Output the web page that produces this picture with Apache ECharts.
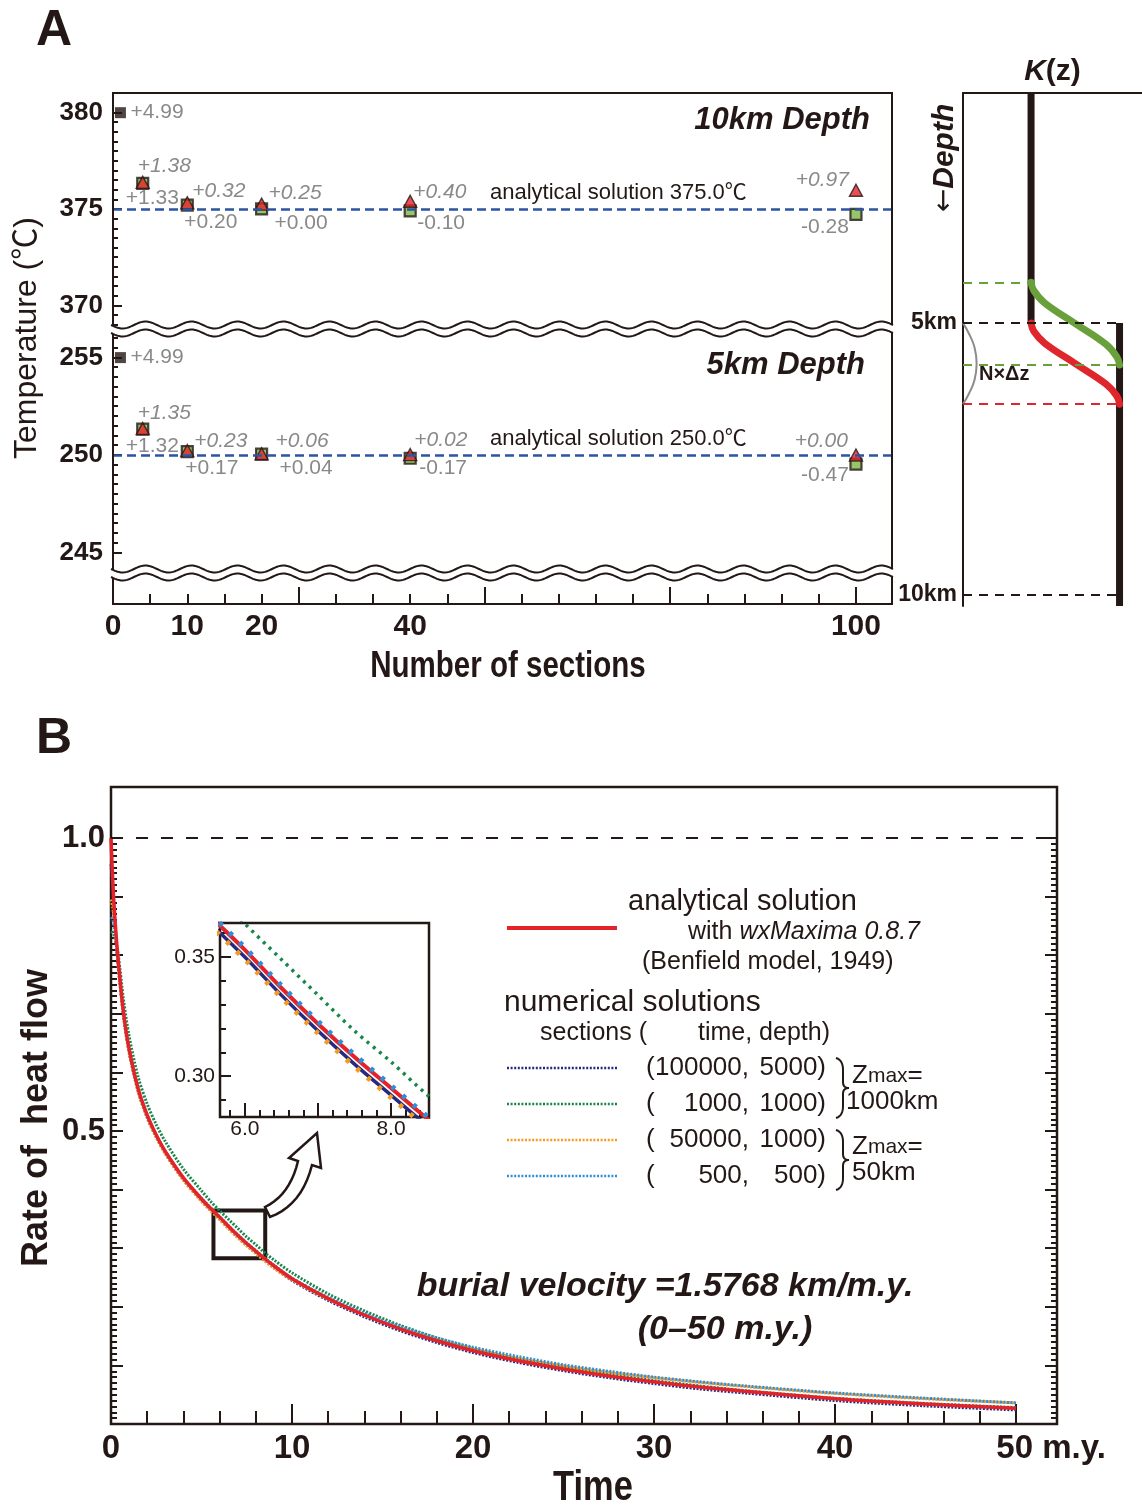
<!DOCTYPE html>
<html>
<head>
<meta charset="utf-8">
<script src="https://cdn.jsdelivr.net/npm/echarts@6/dist/echarts.min.js"></script>
<style>
  html, body { margin: 0; padding: 0; background: #fff; }
  #chart { width: 1142px; height: 1508px; }
</style>
</head>
<body>
<div id="chart"></div>
<script>
// ---------- Panel A: temperature vs. number of sections ----------
const sectionCounts = [4, 10, 20, 40, 100];
const singleSection = 1;
const analytic10km = 375.0;
const analytic5km = 250.0;
const single10kmDev = 4.99;
const single5kmDev = 4.99;
const dev10kmRed = [1.38, 0.32, 0.25, 0.40, 0.97];
const dev10kmGreen = [1.33, 0.20, 0.00, -0.10, -0.28];
const dev5kmRed = [1.35, 0.23, 0.06, 0.02, 0.00];
const dev5kmGreen = [1.32, 0.17, 0.04, -0.17, -0.47];
const sectionLabels = [0, 10, 20, 40, 100];
const tempLabels10km = [370, 375, 380];
const tempLabels5km = [245, 250, 255];

// ---------- K(z) sketch ----------
const kLow = 1.0;
const kHigh = 2.3;
const depthTopKm = 0.77;
const depthBottomKm = 10.2;
const depthLabels = [5, 10];
const greenTopKm = 4.25;
const greenBottomKm = 5.77;
const redBottomKm = 6.49;
const greenDepth = [4.25, 4.40, 4.63, 5.01, 5.39, 5.62, 5.77];
const redDepth = [5.00, 5.15, 5.37, 5.745, 6.12, 6.34, 6.49];
const transitionK = [1.00, 1.04, 1.20, 1.65, 2.10, 2.26, 2.30];
const bracketDepth = [5.0, 5.2, 5.45, 5.745, 6.04, 6.29, 6.49];
const bracketK = [0, 0.09, 0.17, 0.2, 0.17, 0.09, 0];

// ---------- Panel B: rate of heat flow vs. time ----------
const timeMy = [0, 0.1, 0.2, 0.4, 0.7, 1, 1.5, 2, 2.5, 3, 4, 5, 5.5, 6, 6.5, 7, 7.5, 8, 8.5, 9,
  10, 12, 14, 16, 18, 20, 22.5, 25, 27.5, 30, 32.5, 35, 40, 45, 50];
const analytical = [1.000, 0.925, 0.870, 0.790, 0.700, 0.640, 0.572, 0.527, 0.493, 0.465, 0.420, 0.384,
  0.368, 0.353, 0.337, 0.322, 0.308, 0.295, 0.282, 0.270, 0.248, 0.214, 0.186, 0.162, 0.142, 0.125,
  0.108, 0.094, 0.082, 0.072, 0.063, 0.056, 0.043, 0.034, 0.027];
const num100000x5000 = [0.955, 0.915, 0.862, 0.783, 0.694, 0.635, 0.568, 0.523, 0.490, 0.462, 0.417, 0.381,
  0.365, 0.350, 0.334, 0.319, 0.305, 0.292, 0.279, 0.267, 0.245, 0.211, 0.183, 0.159, 0.139, 0.122,
  0.105, 0.091, 0.079, 0.069, 0.060, 0.053, 0.040, 0.031, 0.024];
const num1000x1000 = [0.840, 0.838, 0.832, 0.800, 0.722, 0.662, 0.592, 0.546, 0.511, 0.482, 0.435, 0.398,
  0.380, 0.364, 0.349, 0.334, 0.319, 0.306, 0.292, 0.280, 0.258, 0.222, 0.193, 0.168, 0.147, 0.129,
  0.111, 0.097, 0.085, 0.074, 0.065, 0.057, 0.044, 0.035, 0.028];
const num50000x1000 = [0.895, 0.880, 0.852, 0.780, 0.694, 0.634, 0.567, 0.523, 0.489, 0.461, 0.416, 0.380,
  0.364, 0.349, 0.333, 0.318, 0.304, 0.291, 0.278, 0.266, 0.246, 0.213, 0.186, 0.163, 0.144, 0.128,
  0.112, 0.099, 0.088, 0.079, 0.071, 0.064, 0.052, 0.043, 0.036];
const num500x500 = [0.865, 0.860, 0.845, 0.785, 0.700, 0.640, 0.572, 0.527, 0.493, 0.465, 0.420, 0.385,
  0.369, 0.354, 0.338, 0.323, 0.309, 0.296, 0.283, 0.271, 0.249, 0.216, 0.189, 0.166, 0.147, 0.131,
  0.115, 0.101, 0.090, 0.080, 0.072, 0.065, 0.053, 0.044, 0.036];
const timeLabels = [0, 10, 20, 30, 40, 50];
const rateLabels = [0.5, 1.0];
const insetTime = [5.66, 8.52];
const insetRate = [0.2828, 0.3643];
const insetTimeLabels = [6.0, 8.0];
const insetRateLabels = [0.30, 0.35];
const burialVelocity = 1.5768;
const burialPeriod = [0, 50];

// ---------- styling ----------
const INK = '#231815';
const GRAY = '#6b6b6b';
const RED = '#e3232a';
const GREEN_PT = '#7cb843';
const NAVY = '#262b80';
const DGREEN = '#17884a';
const ORANGE = '#f29b25';
const LBLUE = '#2f8fd6';
const SANS = "'Liberation Sans',Arial,'Noto Sans CJK JP',sans-serif";
const SMOOTH = 0.3;

// label placement (align, dx, dy) for each deviation marker
const place10Red = [['left', -5, -16], ['left', 5, -12], ['left', 7, -11], ['left', 3, -9], ['right', -7, -10]];
const place10Green = [['left', -17, 15], ['left', -3, 17], ['left', 13, 14], ['left', 7, 12], ['right', -7, 13]];
const place5Red = [['left', -5, -15], ['left', 7, -9], ['left', 14, -13], ['left', 4, -14], ['right', -8, -14]];
const place5Green = [['left', -17, 17], ['left', -2, 17], ['left', 18, 14], ['left', 9, 10], ['right', -7, 11]];

function steps(a, b, s) {
  const out = [];
  for (let i = 0; a + i * s <= b + 1e-9; i++) out.push(+(a + i * s).toFixed(4));
  return out;
}
function fmtDev(v) { return (v < 0 ? '-' : '+') + Math.abs(v).toFixed(2); }
function ax(o) {
  return Object.assign({
    type: 'value', axisLine: { show: false }, splitLine: { show: false },
    axisTick: { show: false }, axisLabel: { show: false }
  }, o);
}
function ticks(values, len, w) {
  return { show: true, inside: true, length: len, customValues: values, lineStyle: { color: INK, width: w || 2 } };
}
function labels(values, o) {
  return Object.assign({ show: true, customValues: values, color: INK, fontFamily: SANS, fontWeight: 'bold' }, o);
}
function devItems(devs, base, places) {
  return sectionCounts.map((s, i) => ({
    value: [s, base + devs[i], devs[i]],
    label: { align: places[i][0], offset: [places[i][1], places[i][2]] }
  }));
}
function devLabel(italic) {
  return {
    show: true, position: 'inside', verticalAlign: 'middle',
    formatter: p => fmtDev(p.value[2]),
    color: GRAY, fontSize: 21, fontFamily: SANS, fontStyle: italic ? 'italic' : 'normal'
  };
}
const pairs = ys => timeMy.map((t, i) => [t, ys[i]]);

const X_A = [0, 104.85];
const Y_A10 = [368.52, 381.01];
const Y_A5 = [242.36, 256.2];
const X_B = [0, 52.26];
const Y_B = [0, 1.087];

// ---------- axes ----------
const xAxes = [
  ax({ gridIndex: 0, min: X_A[0], max: X_A[1], show: false }),
  ax({ gridIndex: 1, min: X_A[0], max: X_A[1], position: 'bottom',
       axisTick: ticks(steps(5, 100, 5).filter(v => v % 25 !== 0), 10) }),
  ax({ gridIndex: 1, min: X_A[0], max: X_A[1], position: 'bottom',
       axisTick: ticks([25, 50, 75, 100], 17),
       axisLabel: labels(sectionLabels, { fontSize: 30, margin: 8 }) }),
  ax({ gridIndex: 2, min: 0, max: 2.63, position: 'top',
       axisLine: { show: true, lineStyle: { color: INK, width: 2 } },
       name: '{k|K}{p|(z)}', nameLocation: 'middle', nameGap: 6,
       nameTextStyle: { rich: {
         k: { fontFamily: SANS, fontWeight: 'bold', fontStyle: 'italic', fontSize: 30, color: INK },
         p: { fontFamily: SANS, fontWeight: 'bold', fontSize: 30, color: INK } } } }),
  ax({ gridIndex: 3, min: X_B[0], max: X_B[1], position: 'bottom',
       axisTick: ticks(steps(2, 50, 2), 13) }),
  ax({ gridIndex: 3, min: X_B[0], max: X_B[1], position: 'bottom',
       axisTick: ticks([10, 20, 30, 40, 50], 20),
       axisLabel: labels(timeLabels, { fontSize: 33, margin: 8,
         formatter: v => (v === burialPeriod[1] ? '{pad| }' + v + ' m.y.' : String(v)),
         rich: { pad: { width: 70 } } }) }),
  ax({ gridIndex: 4, min: insetTime[0], max: insetTime[1], position: 'bottom',
       axisTick: ticks(steps(5.8, 8.4, 0.2), 7) }),
  ax({ gridIndex: 4, min: insetTime[0], max: insetTime[1], position: 'bottom',
       axisTick: ticks([6, 7, 8], 14),
       axisLabel: { show: true, customValues: insetTimeLabels, formatter: v => (+v).toFixed(1),
         color: INK, fontFamily: SANS, fontSize: 21, margin: 2 } })
];

const yAxes = [
  ax({ gridIndex: 0, position: 'left', min: Y_A10[0], max: Y_A10[1], axisTick: ticks(steps(369, 380, 0.5), 5) }),
  ax({ gridIndex: 0, position: 'left', min: Y_A10[0], max: Y_A10[1], axisTick: ticks(tempLabels10km, 9),
       axisLabel: labels(tempLabels10km, { fontSize: 26, margin: 10 }) }),
  ax({ gridIndex: 1, position: 'left', min: Y_A5[0], max: Y_A5[1], axisTick: ticks(steps(245, 256, 0.5), 5) }),
  ax({ gridIndex: 1, position: 'left', min: Y_A5[0], max: Y_A5[1], axisTick: ticks(tempLabels5km, 9),
       axisLabel: labels(tempLabels5km, { fontSize: 26, margin: 10 }) }),
  ax({ gridIndex: 2, position: 'left', min: depthTopKm, max: depthBottomKm, inverse: true,
       axisLine: { show: true, lineStyle: { color: INK, width: 2 } },
       axisLabel: { show: true, customValues: depthLabels, formatter: '{value}km', margin: 6,
         color: INK, fontFamily: SANS, fontWeight: 'bold', fontSize: 23 } }),
  ax({ gridIndex: 3, min: Y_B[0], max: Y_B[1], position: 'left', axisTick: ticks(steps(0.01, 1.0, 0.01), 6) }),
  ax({ gridIndex: 3, min: Y_B[0], max: Y_B[1], position: 'left', axisTick: ticks(steps(0.1, 1.0, 0.1), 12),
       axisLabel: labels(rateLabels, { fontSize: 31, margin: 6, formatter: v => (+v).toFixed(1) }) }),
  ax({ gridIndex: 3, min: Y_B[0], max: Y_B[1], position: 'right', axisTick: ticks(steps(0.01, 1.0, 0.01), 6) }),
  ax({ gridIndex: 3, min: Y_B[0], max: Y_B[1], position: 'right', axisTick: ticks(steps(0.1, 1.0, 0.1), 12) }),
  ax({ gridIndex: 4, position: 'left', min: insetRate[0], max: insetRate[1], axisTick: ticks(steps(0.29, 0.36, 0.01), 6) }),
  ax({ gridIndex: 4, position: 'left', min: insetRate[0], max: insetRate[1], axisTick: ticks(insetRateLabels, 11),
       axisLabel: { show: true, customValues: insetRateLabels, formatter: v => (+v).toFixed(2),
         color: INK, fontFamily: SANS, fontSize: 21, margin: 5 } })
];

// ---------- series ----------
const blueLine = { color: '#2b54a3', width: 2.5, type: [9, 5] };
function curve(xi, yi, ys, style, extra) {
  return Object.assign({ type: 'line', xAxisIndex: xi, yAxisIndex: yi, symbol: 'none', smooth: SMOOTH,
    clip: true, silent: true, lineStyle: style, data: pairs(ys) }, extra || {});
}
const series = [
  // 10 km depth
  { type: 'scatter', xAxisIndex: 0, yAxisIndex: 0, symbol: 'rect', symbolSize: 11,
    itemStyle: { color: INK },
    data: [{ value: [singleSection, analytic10km + single10kmDev, single10kmDev],
             label: { align: 'left', offset: [10, 0] } }],
    label: devLabel(false),
    markLine: { silent: true, symbol: 'none', lineStyle: blueLine, label: { show: false },
                data: [{ yAxis: analytic10km }] } },
  { type: 'scatter', xAxisIndex: 0, yAxisIndex: 0, symbol: 'rect', symbolSize: 11,
    itemStyle: { color: GREEN_PT, borderColor: INK, borderWidth: 2.2 },
    data: devItems(dev10kmGreen, analytic10km, place10Green), label: devLabel(false) },
  { type: 'scatter', xAxisIndex: 0, yAxisIndex: 0, symbol: 'triangle', symbolSize: [13, 12],
    itemStyle: { color: RED, borderColor: INK, borderWidth: 1.4 },
    data: devItems(dev10kmRed, analytic10km, place10Red), label: devLabel(true) },
  // 5 km depth
  { type: 'scatter', xAxisIndex: 1, yAxisIndex: 2, symbol: 'rect', symbolSize: 11,
    itemStyle: { color: INK },
    data: [{ value: [singleSection, analytic5km + single5kmDev, single5kmDev],
             label: { align: 'left', offset: [10, 0] } }],
    label: devLabel(false),
    markLine: { silent: true, symbol: 'none', lineStyle: blueLine, label: { show: false },
                data: [{ yAxis: analytic5km }] } },
  { type: 'scatter', xAxisIndex: 1, yAxisIndex: 2, symbol: 'rect', symbolSize: 11,
    itemStyle: { color: GREEN_PT, borderColor: INK, borderWidth: 2.2 },
    data: devItems(dev5kmGreen, analytic5km, place5Green), label: devLabel(false) },
  { type: 'scatter', xAxisIndex: 1, yAxisIndex: 2, symbol: 'triangle', symbolSize: [13, 12],
    itemStyle: { color: RED, borderColor: INK, borderWidth: 1.4 },
    data: devItems(dev5kmRed, analytic5km, place5Red), label: devLabel(true) },

  // K(z) sketch
  { type: 'line', xAxisIndex: 3, yAxisIndex: 4, symbol: 'none', silent: true,
    lineStyle: { color: INK, width: 7 }, data: [[kLow, depthTopKm], [kLow, 5]],
    markLine: { silent: true, symbol: 'none', label: { show: false }, data: [
      [{ coord: [0, greenTopKm], lineStyle: { color: '#6aa03b', type: [9, 7], width: 2 } }, { coord: [kLow, greenTopKm] }],
      [{ coord: [0, 5], lineStyle: { color: INK, type: [9, 7], width: 2 } }, { coord: [kHigh, 5] }],
      [{ coord: [0, greenBottomKm], lineStyle: { color: '#6aa03b', type: [9, 7], width: 2 } }, { coord: [kHigh, greenBottomKm] }],
      [{ coord: [0, redBottomKm], lineStyle: { color: '#e0262d', type: [9, 7], width: 2 } }, { coord: [kHigh, redBottomKm] }],
      [{ coord: [0, 10], lineStyle: { color: INK, type: [9, 7], width: 2 } }, { coord: [kHigh, 10] }]
    ] } },
  { type: 'line', xAxisIndex: 3, yAxisIndex: 4, symbol: 'none', silent: true,
    lineStyle: { color: INK, width: 7 }, data: [[kHigh, 5], [kHigh, depthBottomKm]] },
  { type: 'line', xAxisIndex: 3, yAxisIndex: 4, symbol: 'none', silent: true, smooth: 0.4,
    lineStyle: { color: '#6aa03b', width: 7, cap: 'round' },
    data: greenDepth.map((d, i) => [transitionK[i], d]) },
  { type: 'line', xAxisIndex: 3, yAxisIndex: 4, symbol: 'none', silent: true, smooth: 0.4,
    lineStyle: { color: '#e0262d', width: 7, cap: 'round' },
    data: redDepth.map((d, i) => [transitionK[i], d]) },
  { type: 'line', xAxisIndex: 3, yAxisIndex: 4, symbol: 'none', silent: true, smooth: 0.5,
    lineStyle: { color: '#8c8c8c', width: 2 },
    data: bracketDepth.map((d, i) => [bracketK[i], d]) },

  // Panel B main plot
  curve(4, 5, num1000x1000, { color: DGREEN, width: 3, type: [2, 1.5] }),
  curve(4, 5, num100000x5000, { color: NAVY, width: 3, type: [2, 1.5] }),
  curve(4, 5, num50000x1000, { color: ORANGE, width: 3, type: [2, 1.5] }),
  curve(4, 5, num500x500, { color: LBLUE, width: 3, type: [2, 1.5] }),
  curve(4, 5, analytical, { color: RED, width: 3.5 }, {
    markLine: { silent: true, symbol: 'none', label: { show: false },
      lineStyle: { color: INK, width: 2, type: [12, 13] }, data: [{ yAxis: 1.0 }] },
    markArea: { silent: true, itemStyle: { color: 'rgba(0,0,0,0)', borderColor: INK, borderWidth: 4 },
      data: [[{ coord: [insetTime[0], insetRate[1]] }, { coord: [insetTime[1], insetRate[0]] }]] } }),

  // Panel B inset
  curve(6, 9, num1000x1000, { color: DGREEN, width: 3.5, type: [3, 5] }),
  curve(6, 9, num100000x5000, { color: NAVY, width: 3.5 }),
  curve(6, 9, analytical, { color: RED, width: 4 }),
  curve(6, 9, num50000x1000, { color: ORANGE, width: 5, type: [4, 10] }),
  curve(6, 9, num500x500, { color: LBLUE, width: 5, type: [4, 10], dashOffset: 7 })
];

// ---------- decorations: frames, break marks, titles, legend ----------
function wavePts(y0, x0, x1) {
  const pts = [];
  for (let x = x0; x <= x1 + 0.01; x += 2) pts.push([x, y0 + 3.5 * Math.sin((x - x0) / 46 * 2 * Math.PI)]);
  return pts;
}
function quad(p0, c, p1, n) {
  const pts = [];
  n = n || 10;
  for (let i = 0; i <= n; i++) {
    const t = i / n, u = 1 - t;
    pts.push([u * u * p0[0] + 2 * u * t * c[0] + t * t * p1[0], u * u * p0[1] + 2 * u * t * c[1] + t * t * p1[1]]);
  }
  return pts;
}
function breakMark(yc) {
  const top = wavePts(yc - 4, 111, 894), bot = wavePts(yc + 4, 111, 894);
  return [
    { type: 'polygon', z: 100, shape: { points: top.concat(bot.slice().reverse()) }, style: { fill: '#fff' } },
    { type: 'polyline', z: 101, shape: { points: top }, style: { stroke: INK, lineWidth: 2, fill: null } },
    { type: 'polyline', z: 101, shape: { points: bot }, style: { stroke: INK, lineWidth: 2, fill: null } }
  ];
}
function txt(x, y, text, o) {
  o = Object.assign({}, o || {});
  const el = { type: 'text', x: x, y: y, z: 110 };
  if (o.rotation) { el.rotation = o.rotation; delete o.rotation; }
  if (o.scaleX) { el.scaleX = o.scaleX; delete o.scaleX; }
  const s = Object.assign({ text: text, fill: INK, fontFamily: SANS, fontSize: 22,
    textAlign: 'left', textVerticalAlign: 'middle' }, o);
  s.align = s.textAlign; s.verticalAlign = s.textVerticalAlign;
  el.style = s;
  return el;
}
function legLine(y, color, dotted) {
  return { type: 'line', z: 110, shape: { x1: 507, y1: y, x2: 617, y2: y },
    style: { stroke: color, lineWidth: dotted ? 2.6 : 4, lineDash: dotted ? [2, 1.6] : null } };
}
function brace(y1, y2) {
  const ym = (y1 + y2) / 2;
  const pts = [].concat(
    quad([836, y1], [843, y1 + 2], [843, y1 + 12]),
    quad([843, ym - 6], [843, ym], [849, ym]),
    quad([849, ym], [843, ym], [843, ym + 6]),
    quad([843, y2 - 12], [843, y2 - 2], [836, y2]));
  return { type: 'polyline', z: 110, shape: { points: pts }, style: { stroke: INK, lineWidth: 2, fill: null } };
}
const arrowPts = [].concat(
  quad([265, 1207], [290, 1195], [298, 1161]),
  [[289, 1158], [317, 1133], [321, 1168], [312, 1165]],
  quad([312, 1165], [302, 1205], [270, 1217]));

const NARROW_X = 0.82;
const graphics = [
  txt(36, 31, 'A', { fontSize: 50, fontWeight: 'bold' }),
  txt(36, 739, 'B', { fontSize: 50, fontWeight: 'bold' }),
  { type: 'rect', z: 50, shape: { x: 113, y: 93, width: 779, height: 511 },
    style: { stroke: INK, lineWidth: 2, fill: null } },
  ...breakMark(329),
  ...breakMark(573),
  txt(27, 338, 'Temperature (℃)', { fontSize: 32, textAlign: 'center', rotation: Math.PI / 2 }),
  txt(508, 667, 'Number of sections', { fontSize: 36, fontWeight: 'bold', textAlign: 'center', scaleX: NARROW_X }),
  txt(870, 120, '10km Depth', { fontSize: 31, fontWeight: 'bold', fontStyle: 'italic', textAlign: 'right' }),
  txt(865, 365, '5km Depth', { fontSize: 31, fontWeight: 'bold', fontStyle: 'italic', textAlign: 'right' }),
  txt(490, 193, 'analytical solution ' + analytic10km.toFixed(1) + '℃', { fontSize: 22 }),
  txt(490, 439, 'analytical solution ' + analytic5km.toFixed(1) + '℃', { fontSize: 22 }),
  txt(945, 158, '{a|←}{d|Depth}', { textAlign: 'center', rotation: Math.PI / 2, rich: {
    a: { fontFamily: "'DejaVu Sans',sans-serif", fontSize: 28, fill: INK },
    d: { fontFamily: SANS, fontSize: 30, fontWeight: 'bold', fontStyle: 'italic', fill: INK } } }),
  txt(979, 374, 'N×Δz', { fontSize: 20, fontWeight: 'bold' }),

  // panel B titles
  txt(37, 1118, 'Rate of  heat flow', { fontSize: 36, fontWeight: 'bold', textAlign: 'center', rotation: Math.PI / 2 }),
  txt(593, 1488, 'Time', { fontSize: 42, fontWeight: 'bold', textAlign: 'center', scaleX: NARROW_X }),
  txt(665, 1287, 'burial velocity =' + burialVelocity.toFixed(4) + ' km/m.y.',
      { fontSize: 34, fontWeight: 'bold', fontStyle: 'italic', textAlign: 'center' }),
  txt(725, 1330, '(' + burialPeriod[0] + '–' + burialPeriod[1] + ' m.y.)',
      { fontSize: 34, fontWeight: 'bold', fontStyle: 'italic', textAlign: 'center' }),

  // legend
  legLine(928, RED, false),
  legLine(1068, NAVY, true),
  legLine(1104, DGREEN, true),
  legLine(1140, ORANGE, true),
  legLine(1176, LBLUE, true),
  txt(628, 902, 'analytical solution', { fontSize: 29 }),
  txt(688, 932, '{r|with }{i|wxMaxima 0.8.7}', { fontSize: 25, rich: {
    r: { fontFamily: SANS, fontSize: 25, fill: INK }, i: { fontFamily: SANS, fontSize: 25, fontStyle: 'italic', fill: INK } } }),
  txt(642, 962, '(Benfield model, 1949)', { fontSize: 25 }),
  txt(504, 1003, 'numerical solutions', { fontSize: 30 }),
  txt(540, 1033, 'sections (', { fontSize: 25 }),
  txt(830, 1033, 'time, depth)', { fontSize: 25, textAlign: 'right' }),
  txt(646, 1068, '(', { fontSize: 26 }), txt(749, 1068, '100000,', { fontSize: 26, textAlign: 'right' }), txt(826, 1068, '5000)', { fontSize: 26, textAlign: 'right' }),
  txt(646, 1104, '(', { fontSize: 26 }), txt(749, 1104, '1000,', { fontSize: 26, textAlign: 'right' }), txt(826, 1104, '1000)', { fontSize: 26, textAlign: 'right' }),
  txt(646, 1140, '(', { fontSize: 26 }), txt(749, 1140, '50000,', { fontSize: 26, textAlign: 'right' }), txt(826, 1140, '1000)', { fontSize: 26, textAlign: 'right' }),
  txt(646, 1176, '(', { fontSize: 26 }), txt(749, 1176, '500,', { fontSize: 26, textAlign: 'right' }), txt(826, 1176, '500)', { fontSize: 26, textAlign: 'right' }),
  brace(1058, 1118),
  brace(1130, 1190),
  txt(852, 1076, '{z|Z}{m|max}{z|=}', { rich: {
    z: { fontFamily: SANS, fontSize: 26, fill: INK }, m: { fontFamily: SANS, fontSize: 21, fill: INK } } }),
  txt(846, 1102, '1000km', { fontSize: 26 }),
  txt(852, 1147, '{z|Z}{m|max}{z|=}', { rich: {
    z: { fontFamily: SANS, fontSize: 26, fill: INK }, m: { fontFamily: SANS, fontSize: 21, fill: INK } } }),
  txt(852, 1173, '50km', { fontSize: 26 }),

  // arrow from zoom box to inset
  { type: 'polygon', z: 110, shape: { points: arrowPts },
    style: { fill: '#fff', stroke: INK, lineWidth: 2.5 } }
];

const option = {
  animation: false,
  backgroundColor: '#fff',
  grid: [
    { left: 113, top: 93, width: 779, height: 241 },
    { left: 113, top: 334, width: 779, height: 270 },
    { left: 963, top: 93, width: 179, height: 513 },
    { left: 111, top: 787, width: 946, height: 637, show: true, borderColor: INK, borderWidth: 2.5, backgroundColor: '#fff' },
    { left: 220, top: 923, width: 209, height: 194, show: true, borderColor: INK, borderWidth: 2.5, backgroundColor: '#fff' }
  ],
  xAxis: xAxes,
  yAxis: yAxes,
  series: series,
  graphic: { elements: graphics }
};

const chart = echarts.init(document.getElementById('chart'), null, { renderer: 'canvas' });
chart.setOption(option);
</script>
</body>
</html>
